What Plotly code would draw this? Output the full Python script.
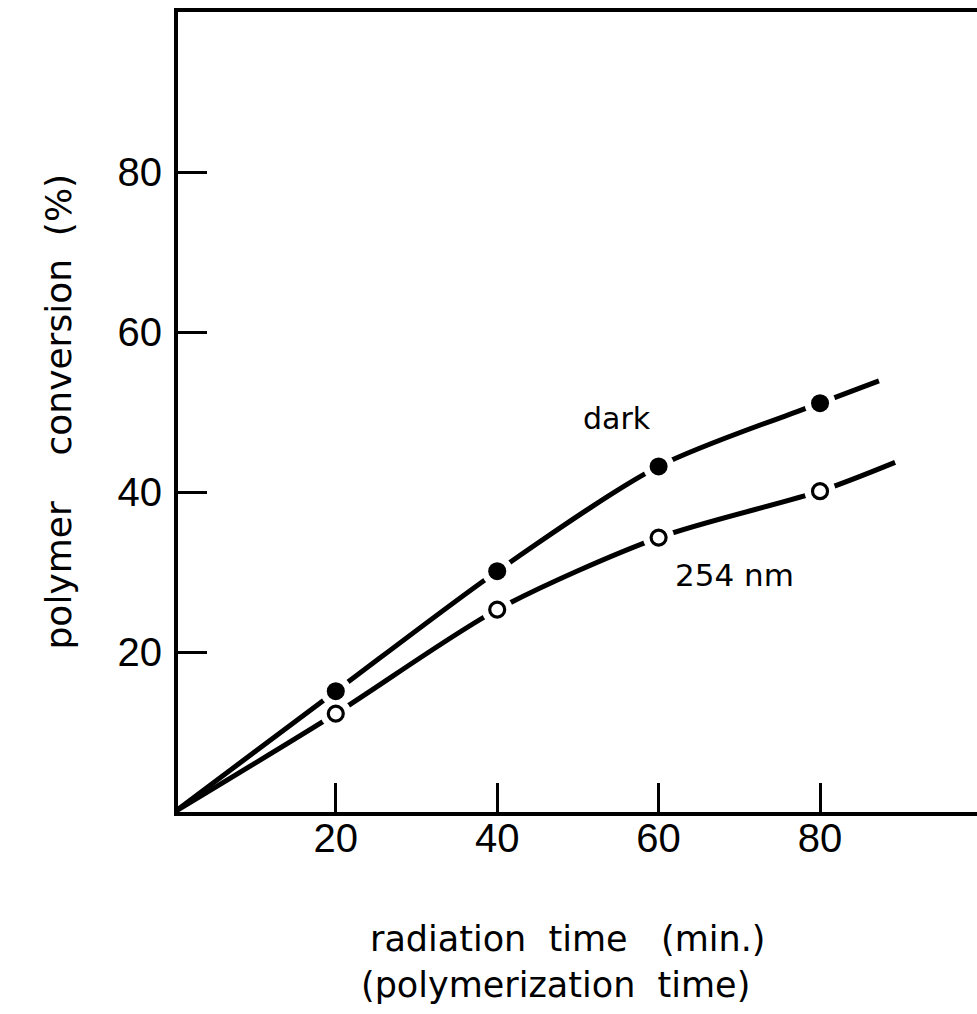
import plotly.graph_objects as go

# Polymer conversion versus radiation (polymerization) time
time_min = [20, 40, 60, 80]
dark = [15.1, 30.1, 43.2, 51.1]
uv_254 = [12.3, 25.3, 34.3, 40.1]

# hand-drawn fit curves: start at the origin, end just past the last point
dark_end = (87.3, 53.9)
uv_end = (89.3, 43.7)

x_ticks = [20, 40, 60, 80]
y_ticks = [20, 40, 60, 80]

W, H = 977, 1014
M_L, M_R, M_T, M_B = 178, 0, 12, 202

fig = go.Figure()

for ys, end in ((dark, dark_end), (uv_254, uv_end)):
    fig.add_trace(go.Scatter(
        x=[0] + time_min + [end[0]],
        y=[0] + ys + [end[1]],
        mode="lines",
        line=dict(color="black", width=5, shape="spline", smoothing=0.8),
        cliponaxis=False,
        hoverinfo="skip",
    ))

# white halos leave a small gap in the curves around each point
fig.add_trace(go.Scatter(
    x=time_min + time_min, y=dark + uv_254, mode="markers",
    marker=dict(size=31, color="white", line=dict(width=0)),
    hoverinfo="skip",
))

fig.add_trace(go.Scatter(
    x=time_min, y=dark, mode="markers", name="dark",
    marker=dict(size=18, color="black", line=dict(width=0)),
))
fig.add_trace(go.Scatter(
    x=time_min, y=uv_254, mode="markers", name="254 nm",
    marker=dict(size=15, color="white", line=dict(color="black", width=3.2)),
))

fig.add_annotation(x=54.9, y=49.2, text="dark", showarrow=False,
                   font=dict(family="DejaVu Sans", size=30, color="black"))
fig.add_annotation(x=69.4, y=29.6, text="254 nm", showarrow=False,
                   font=dict(family="DejaVu Sans", size=31, color="black"))

title_font = dict(family="DejaVu Sans", size=35, color="black")
NB = "\u00a0"
fig.add_annotation(xref="paper", yref="paper", x=0.487, y=-0.1865,
                   text=f"radiation{NB} time{NB}{NB} (min.)",
                   showarrow=False, font=title_font)
fig.add_annotation(xref="paper", yref="paper", x=0.472, y=-0.2435,
                   text=f"(polymerization{NB} time)",
                   showarrow=False, font=title_font)
fig.add_annotation(xref="paper", yref="paper", x=-0.178, y=0.501,
                   text=f"polymer{NB * 3} conversion{NB} (%)",
                   textangle=-90, showarrow=False,
                   font=dict(family="DejaVu Sans", size=36, color="black"))

tick_font = dict(family="Liberation Sans", size=40, color="black")
fig.update_xaxes(
    range=[0.45, 99.45], tickvals=x_ticks, ticktext=[str(v) for v in x_ticks],
    ticks="inside", ticklen=29, tickwidth=3, tickcolor="black",
    showline=True, linewidth=4, linecolor="black", mirror=True,
    showgrid=False, zeroline=False, tickfont=tick_font, ticklabelstandoff=-12,
)
fig.update_yaxes(
    range=[0, 100], tickvals=y_ticks, ticktext=[str(v) for v in y_ticks],
    ticks="inside", ticklen=29, tickwidth=3, tickcolor="black",
    showline=True, linewidth=4, linecolor="black", mirror=False,
    showgrid=False, zeroline=False, tickfont=tick_font, ticklabelstandoff=4,
)

fig.update_layout(
    width=W, height=H, autosize=False,
    margin=dict(l=M_L, r=M_R, t=M_T, b=M_B, pad=0),
    paper_bgcolor="white", plot_bgcolor="white",
    showlegend=False,
)

fig.write_html("out.html")
